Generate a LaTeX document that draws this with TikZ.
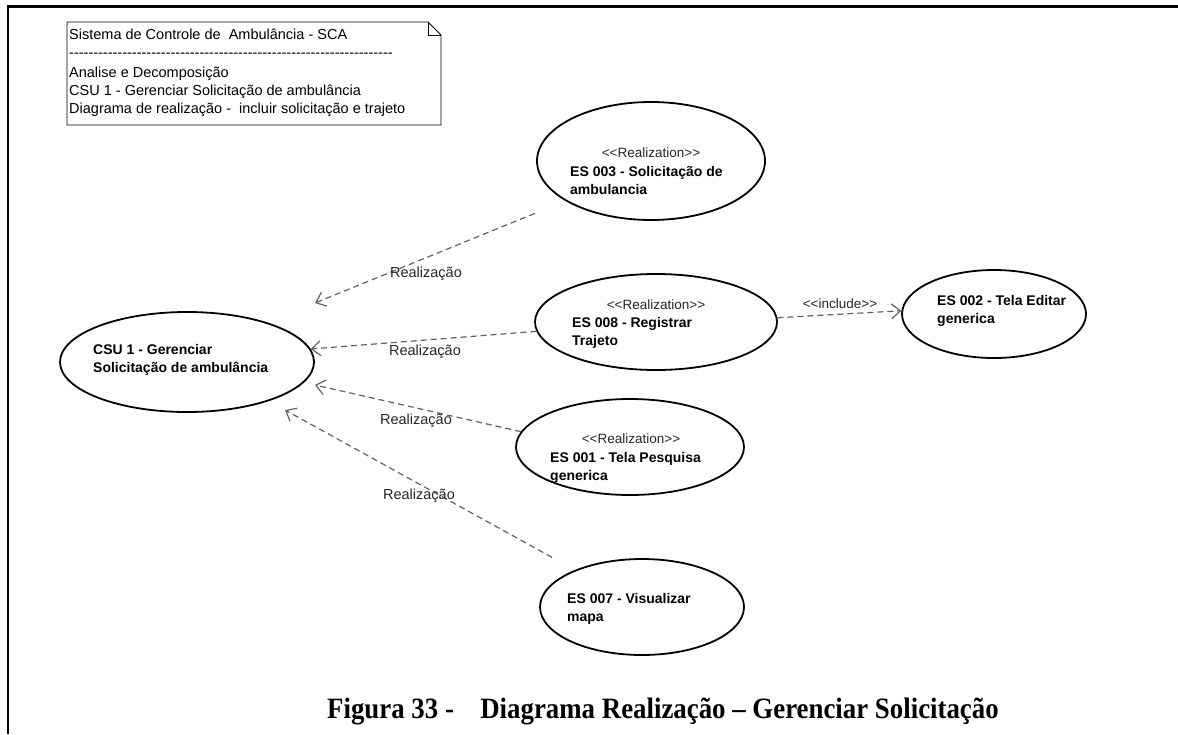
\documentclass[tikz,border=0pt]{standalone}
\usepackage{fontspec}
\usepackage{graphicx}
\setmainfont{Liberation Sans}
\newfontfamily\capfont{Liberation Serif}
\usetikzlibrary{shapes.geometric,arrows.meta}

% a row of plain hyphens, kept apart so no ligature joins them
\ExplSyntaxOn
\cs_new:Npn \hyphenrow #1 { \prg_replicate:nn {#1} { - \kern0pt } }
\ExplSyntaxOff
\newcommand\ucstereo[1]{<\kern0pt<#1>\kern0pt>}

\begin{document}
\begin{tikzpicture}[x=1pt,y=-1pt,
  usecase/.style={draw=black, line width=1.8pt, ellipse, inner sep=0pt},
  uctext/.style={font=\bfseries\fontsize{14}{18}\selectfont, align=left, anchor=west, inner sep=0pt},
  stereo/.style={font=\fontsize{13.5}{16}\selectfont, text=black!85, inner sep=0pt},
  reallbl/.style={font=\fontsize{14.5}{17}\selectfont, text=black!85, inner sep=0pt},
  dep/.style={draw=black!62, line width=1.2pt, dash pattern=on 6pt off 4pt,
              -{Straight Barb[length=9pt,width=15pt]}},
  notetext/.style={font=\fontsize{14.5}{18}\selectfont, anchor=base west, inner sep=0pt}
]
\useasboundingbox (0,0) rectangle (1178,734);
\fill[white] (0,0) rectangle (1178,734);

% page frame
\draw[line width=2.4pt] (8,734) -- (8,6.5) -- (1178,6.5);

% note with folded corner
\draw[line width=0.9pt, fill=white] (67,22) -- (428,22) -- (441,35) -- (441,125) -- (67,125) -- cycle;
\draw[line width=0.9pt] (428,22) -- (428,35) -- (441,35);
\node[notetext] (n1) at (69,39) {Sistema de Controle de\ \ Ambulância - SCA};
\node[notetext] (n2) at (69,57) {\hyphenrow{67}};
\node[notetext] (n3) at (69,77) {Analise e Decomposição};
\node[notetext] (n4) at (69,95) {CSU 1 - Gerenciar Solicitação de ambulância};
\node[notetext] (n5) at (69,113) {Diagrama de realização -\ \ incluir solicitação e trajeto};

% use cases
\node[usecase, minimum width=254pt, minimum height=100pt] (csu) at (187,362) {};
\node[uctext] (csut) at (93,360) {CSU 1 - Gerenciar\\Solicitação de ambulância};

\node[usecase, minimum width=228pt, minimum height=118pt] (es3) at (651,161) {};
\node[stereo] (es3s) at (651,153) {\ucstereo{Realization}};
\node[uctext] (es3t) at (570,180) {ES 003 - Solicitação de\\ambulancia};

\node[usecase, minimum width=242pt, minimum height=96pt] (es8) at (656,322) {};
\node[stereo] (es8s) at (656,305) {\ucstereo{Realization}};
\node[uctext] (es8t) at (572,333) {ES 008 - Registrar\\Trajeto};

\node[usecase, minimum width=184pt, minimum height=88pt] (es2) at (994,314) {};
\node[uctext] (es2t) at (937,311) {ES 002 - Tela Editar\\generica};

\node[usecase, minimum width=228pt, minimum height=96pt] (es1) at (630,447) {};
\node[stereo] (es1s) at (631,439) {\ucstereo{Realization}};
\node[uctext] (es1t) at (550,468) {ES 001 - Tela Pesquisa\\generica};

\node[usecase, minimum width=204pt, minimum height=96pt] (es7) at (642,607) {};
\node[uctext] (es7t) at (567,609) {ES 007 - Visualizar\\mapa};

% realization dependencies
\coordinate (t1) at (315,303);
\coordinate (t3) at (315,385);
\coordinate (t4) at (285,410);
\draw[dep, shorten <=33pt] (es3.205) -- (t1);
\draw[dep] (es8) -- (csu.6);
\draw[dep] (es1.172) -- (t3);
\draw[dep, shorten <=26pt] (es7) -- (t4);
\draw[dep] (es8.2) -- (es2.178);

\node[reallbl] (r1) at (426,274) {Realização};
\node[reallbl] (r2) at (425,352) {Realização};
\node[reallbl] (r3) at (416,421) {Realização};
\node[reallbl] (r4) at (419,496) {Realização};
\node[stereo] (inc) at (840,304) {\ucstereo{include}};

% caption
\node[anchor=base west, inner sep=0pt] (cap) at (327,718)
  {\capfont\bfseries\fontsize{29.5}{32}\selectfont\scalebox{0.91}[1]{Figura 33 -\hspace{29pt}Diagrama Realização – Gerenciar Solicitação}};
\end{tikzpicture}
\end{document}
